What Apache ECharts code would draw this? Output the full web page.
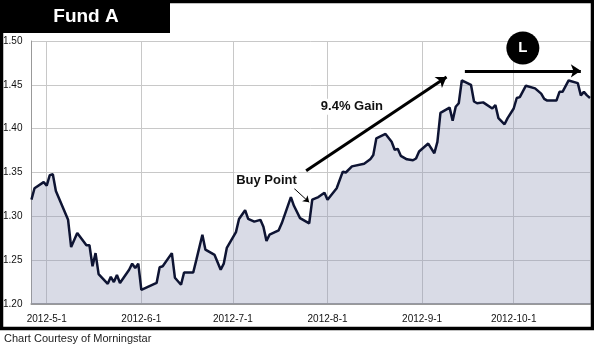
<!DOCTYPE html>
<html>
<head>
<meta charset="utf-8">
<script src="https://cdn.jsdelivr.net/npm/echarts@6/dist/echarts.min.js"></script>
<style>
  html, body { margin: 0; padding: 0; background: #fff; }
  #chart { width: 594px; height: 352px; }
</style>
</head>
<body>
<div id="chart"></div>
<script>
// price history
const dates = [
  '2012-04-26','2012-04-27','2012-04-30','2012-05-01','2012-05-02','2012-05-03','2012-05-04','2012-05-08',
  '2012-05-09','2012-05-11','2012-05-14','2012-05-15','2012-05-16','2012-05-17','2012-05-18','2012-05-21',
  '2012-05-22','2012-05-23','2012-05-24','2012-05-25','2012-05-28','2012-05-29','2012-05-30','2012-05-31',
  '2012-06-01','2012-06-06','2012-06-07','2012-06-08','2012-06-11','2012-06-12','2012-06-14','2012-06-15',
  '2012-06-18','2012-06-19','2012-06-21','2012-06-22','2012-06-25','2012-06-27','2012-06-28','2012-06-29',
  '2012-07-02','2012-07-03','2012-07-05','2012-07-06','2012-07-08','2012-07-10','2012-07-11','2012-07-12',
  '2012-07-13','2012-07-16','2012-07-17','2012-07-20','2012-07-21','2012-07-23','2012-07-25','2012-07-26',
  '2012-07-27','2012-07-29','2012-07-31',
  '2012-08-01','2012-08-04','2012-08-06','2012-08-07','2012-08-09','2012-08-13','2012-08-15','2012-08-16',
  '2012-08-17','2012-08-20','2012-08-22','2012-08-23','2012-08-24','2012-08-25','2012-08-27','2012-08-29',
  '2012-08-30','2012-08-31',
  '2012-09-03','2012-09-05','2012-09-06','2012-09-07','2012-09-10','2012-09-11','2012-09-12','2012-09-13',
  '2012-09-14','2012-09-17','2012-09-18','2012-09-19','2012-09-21','2012-09-24','2012-09-25','2012-09-26',
  '2012-09-28','2012-09-29',
  '2012-10-01','2012-10-02','2012-10-03','2012-10-05','2012-10-08','2012-10-10','2012-10-11','2012-10-12',
  '2012-10-15','2012-10-16','2012-10-17','2012-10-19','2012-10-22','2012-10-23','2012-10-24','2012-10-25',
  '2012-10-26'
];
const prices = [
  1.319, 1.332, 1.339, 1.335, 1.347, 1.348, 1.329, 1.296,
  1.265, 1.281, 1.267, 1.267, 1.243, 1.258, 1.234, 1.223,
  1.231, 1.225, 1.233, 1.224, 1.239, 1.246, 1.241, 1.246,
  1.216, 1.224, 1.242, 1.243, 1.258, 1.230, 1.222, 1.236,
  1.236, 1.250, 1.279, 1.262, 1.256, 1.239, 1.246, 1.264,
  1.282, 1.297, 1.307, 1.297, 1.294, 1.296, 1.288, 1.272,
  1.279, 1.284, 1.292, 1.322, 1.312, 1.298, 1.294, 1.292,
  1.319, 1.322, 1.327,
  1.319, 1.332, 1.351, 1.350, 1.357, 1.360, 1.365, 1.370,
  1.389, 1.394, 1.385, 1.376, 1.377, 1.369, 1.365, 1.364,
  1.366, 1.374,
  1.383, 1.372, 1.385, 1.418, 1.424, 1.409, 1.425, 1.429,
  1.455, 1.450, 1.431, 1.429, 1.430, 1.423, 1.427, 1.412,
  1.405, 1.412,
  1.423, 1.435, 1.436, 1.449, 1.446, 1.440, 1.434, 1.432,
  1.432, 1.442, 1.442, 1.455, 1.452, 1.438, 1.442, 1.438,
  1.435
];
const yTicks = [1.20, 1.25, 1.30, 1.35, 1.40, 1.45, 1.50];

const chart = echarts.init(document.getElementById('chart'));

const labelFont = { color: '#111', fontFamily: 'Liberation Sans', fontWeight: 'bold', fontSize: 13 };

const option = {
  animation: false,
  grid: { left: 31, right: 4, top: 41, bottom: 48 },
  xAxis: {
    type: 'time',
    min: '2012-04-26',
    max: '2012-10-26',
    minInterval: 28 * 864e5,
    maxInterval: 31 * 864e5,
    axisLine: { show: true, lineStyle: { color: '#999', width: 2 } },
    axisTick: { show: false },
    splitLine: { show: true, lineStyle: { color: '#c8c8c8', width: 1 } },
    axisLabel: {
      color: '#111',
      fontFamily: 'Liberation Sans',
      fontSize: 10,
      margin: 10,
      showMinLabel: false,
      showMaxLabel: false,
      formatter: function (v) {
        const d = new Date(v);
        return d.getFullYear() + '-' + (d.getMonth() + 1) + '-' + d.getDate();
      }
    }
  },
  yAxis: {
    type: 'value',
    min: yTicks[0],
    max: yTicks[yTicks.length - 1],
    interval: 0.05,
    axisLine: { show: true, lineStyle: { color: '#999', width: 1 } },
    axisTick: { show: false },
    splitLine: { show: true, lineStyle: { color: '#c8c8c8', width: 1 } },
    axisLabel: {
      color: '#111',
      fontFamily: 'Liberation Sans',
      fontSize: 10,
      margin: 9,
      formatter: v => v.toFixed(2)
    }
  },
  series: [{
    type: 'line',
    data: dates.map((d, i) => [d, prices[i]]),
    showSymbol: false,
    lineStyle: { color: '#0e1433', width: 2.5 },
    areaStyle: { color: 'rgba(146,152,184,0.35)', opacity: 1, origin: 'start' },
    markLine: {
      silent: true,
      symbol: ['none', 'arrow'],
      label: { show: false },
      data: [
        [
          { coord: ['2012-07-25', 1.352], symbol: 'none' },
          { coord: ['2012-09-09', 1.459], symbol: 'arrow', symbolSize: 10, lineStyle: { color: '#000', width: 3, type: 'solid' } }
        ],
        [
          { coord: ['2012-09-15', 1.466], symbol: 'none' },
          { coord: ['2012-10-23', 1.466], symbol: 'arrow', symbolSize: 10, lineStyle: { color: '#000', width: 3, type: 'solid' } }
        ],
        [
          { coord: ['2012-07-21', 1.332], symbol: 'none' },
          { coord: ['2012-07-26', 1.316], symbol: 'arrow', symbolSize: 6, lineStyle: { color: '#000', width: 1, type: 'solid' } }
        ]
      ]
    },
    markPoint: {
      silent: true,
      data: [
        {
          coord: ['2012-07-12', 1.341], symbol: 'rect', symbolSize: [64, 16],
          itemStyle: { color: '#fff' },
          label: Object.assign({ show: true, formatter: 'Buy Point' }, labelFont)
        },
        {
          coord: ['2012-08-09', 1.425], symbol: 'rect', symbolSize: [66, 16],
          itemStyle: { color: '#fff' },
          label: Object.assign({ show: true, formatter: '9.4% Gain' }, labelFont)
        },
        {
          coord: ['2012-10-04', 1.492], symbol: 'circle', symbolSize: 33,
          itemStyle: { color: '#000' },
          label: { show: true, formatter: 'L', color: '#fff', fontFamily: 'Liberation Sans', fontWeight: 'bold', fontSize: 15 }
        }
      ]
    }
  }],
  graphic: [
    { type: 'rect', shape: { x: 1.5, y: 1.5, width: 591, height: 327 }, style: { fill: null, stroke: '#000', lineWidth: 3.5 }, z: 100 },
    { type: 'rect', shape: { x: 0, y: 0, width: 170, height: 33 }, style: { fill: '#000' }, z: 101 },
    { type: 'text', x: 86, y: 17, style: { text: 'Fund A', fill: '#fff', font: 'bold 19px "Liberation Sans"', textAlign: 'center', textVerticalAlign: 'middle' }, z: 102 },
    { type: 'text', x: 4, y: 339, style: { text: 'Chart Courtesy of Morningstar', fill: '#222', font: '11px "Liberation Sans"', textAlign: 'left', textVerticalAlign: 'middle' }, z: 102 }
  ]
};

chart.setOption(option);
</script>
</body>
</html>
